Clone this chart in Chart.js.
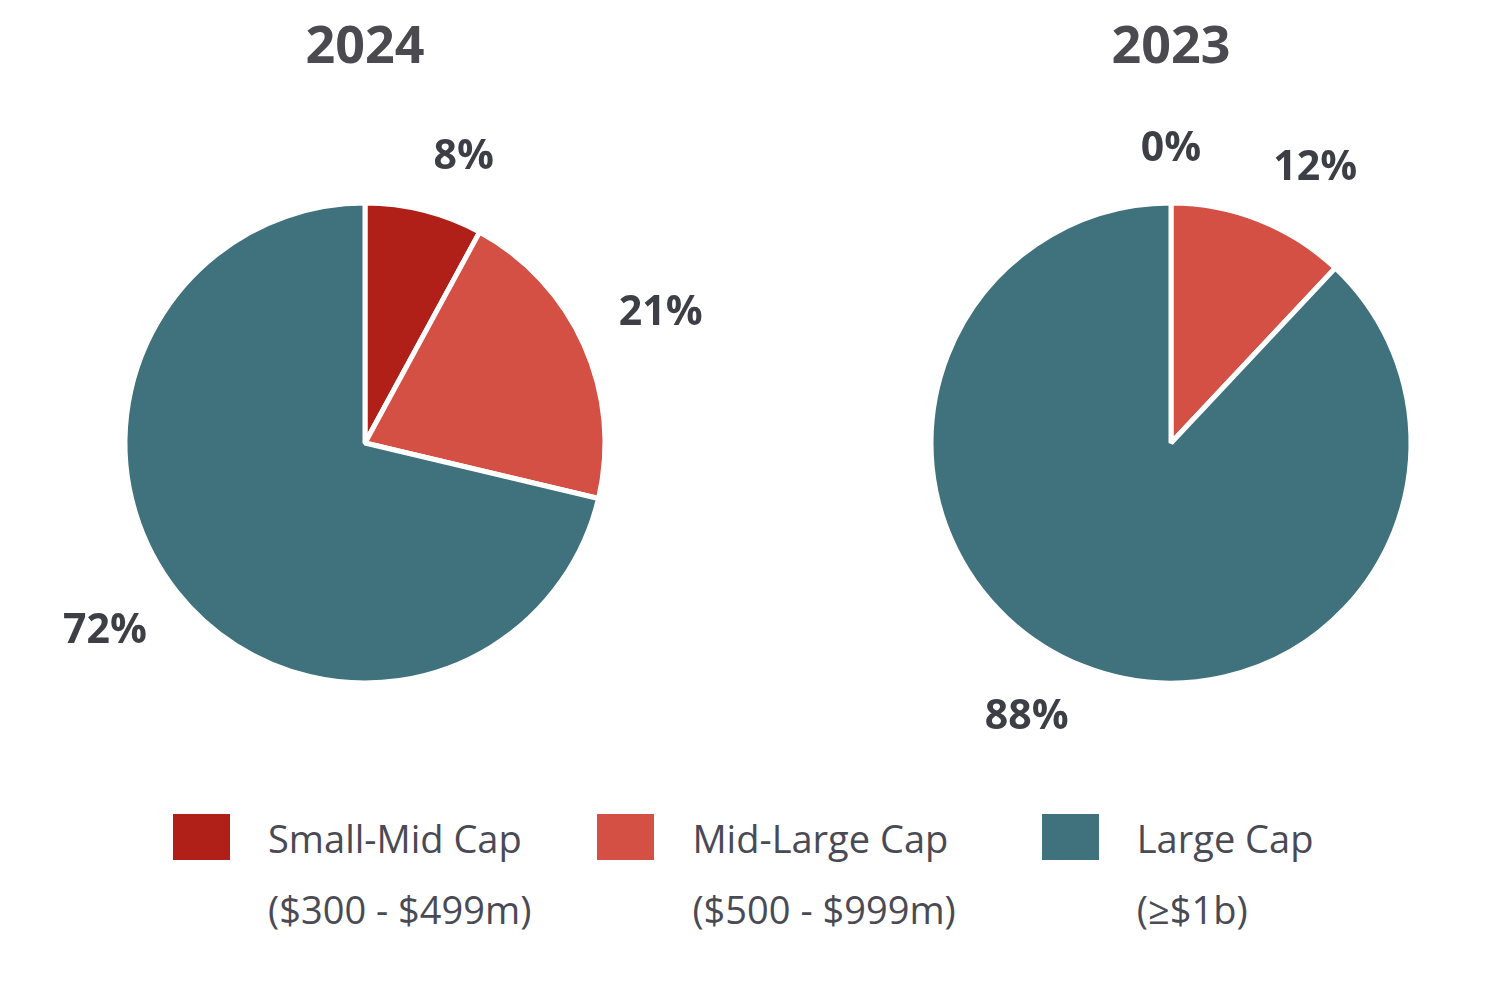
<!DOCTYPE html>
<html>
<head>
<meta charset="utf-8">
<script src="https://cdn.jsdelivr.net/npm/chart.js@4.4.1/dist/chart.umd.min.js"></script>
<style>
  html, body { margin: 0; padding: 0; background: #fff; }
  body { width: 1500px; height: 984px; position: relative; overflow: hidden; font-family: "Open Sans", sans-serif; }
  .pie { position: absolute; top: 0; width: 750px; height: 800px; }
  #legend { position: absolute; left: 173px; top: 803px; display: flex; gap: 66px; color: #4a4a55; font-size: 38px; }
  .item { display: flex; align-items: flex-start; }
  .item:last-child { margin-left: 20px; }
  .swatch { width: 57px; height: 46px; margin-top: 11px; margin-right: 38px; }
  .txt { line-height: 71px; white-space: nowrap; }
</style>
</head>
<body>
<div class="pie" style="left:0"><canvas id="pie2024"></canvas></div>
<div class="pie" style="left:750px"><canvas id="pie2023"></canvas></div>
<div id="legend"></div>

<script>
// data
var categories = ['Small-Mid Cap', 'Mid-Large Cap', 'Large Cap'];
var ranges = ['($300 - $499m)', '($500 - $999m)', '(\u2265$1b)'];
var values2024 = [8, 21, 72];
var values2023 = [0, 12, 88];
var colors = ['#b01f18', '#d44f44', '#3f727c'];

var textColor = '#3e3e46';

// percentage labels outside of each slice:
// the label box corner nearest to the pie sits on the slice's mid-angle ray
var outsideLabels = {
  id: 'outsideLabels',
  afterDatasetsDraw: function (chart) {
    var ctx = chart.ctx;
    var meta = chart.getDatasetMeta(0);
    var data = chart.data.datasets[0].data;
    ctx.save();
    ctx.font = 'bold 41px "Open Sans"';
    ctx.fillStyle = textColor;
    ctx.textBaseline = 'middle';
    meta.data.forEach(function (arc, i) {
      var p = arc.getProps(['x', 'y', 'startAngle', 'endAngle', 'outerRadius'], true);
      var mid = (p.startAngle + p.endAngle) / 2;
      var r = p.outerRadius + 38;
      var dx = Math.cos(mid), dy = Math.sin(mid);
      var x = p.x + dx * r;
      var y = p.y + dy * r;
      if (dx > 0.05) ctx.textAlign = 'left';
      else if (dx < -0.05) ctx.textAlign = 'right';
      else ctx.textAlign = 'center';
      y += dy < 0 ? -16 : 16;
      ctx.fillText(data[i] + '%', x, y);
    });
    ctx.restore();
  }
};

function makePie(id, year, values, padLeft, padRight) {
  return new Chart(document.getElementById(id), {
    type: 'pie',
    data: {
      labels: categories,
      datasets: [{
        data: values,
        backgroundColor: colors,
        borderColor: '#ffffff',
        borderWidth: 5
      }]
    },
    options: {
      responsive: true,
      maintainAspectRatio: false,
      animation: false,
      layout: { padding: { left: padLeft, right: padRight, top: 0, bottom: 114.5 } },
      plugins: {
        legend: { display: false },
        tooltip: { enabled: false },
        title: {
          display: true,
          text: year,
          color: '#4a4a50',
          font: { family: '"Open Sans"', size: 52, weight: 'bold', lineHeight: 1.2 },
          padding: { top: 16.8, bottom: 121.3 }
        }
      }
    },
    plugins: [outsideLabels]
  });
}

makePie('pie2024', '2024', values2024, 122.5, 142.5);
makePie('pie2023', '2023', values2023, 178.5, 86.5);

// legend
var legend = document.getElementById('legend');
categories.forEach(function (c, i) {
  var item = document.createElement('div');
  item.className = 'item';
  item.innerHTML = '<div class="swatch" style="background:' + colors[i] + '"></div>' +
    '<div class="txt">' + c + '<br>' + ranges[i] + '</div>';
  legend.appendChild(item);
});
</script>
</body>
</html>
